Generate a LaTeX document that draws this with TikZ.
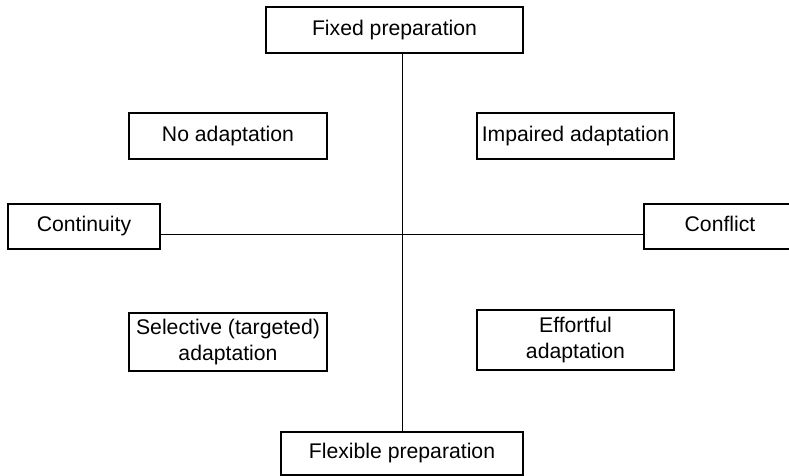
\documentclass[tikz,border=0pt]{standalone}
\usepackage{fontspec}
\setmainfont{Liberation Sans}
\usepackage{tikz}
\tikzset{oneline/.style={text height=0.75em,text depth=0.22em}}
\def\quadbox{\node[draw,rectangle,line width=0.6pt,inner sep=0pt,align=center,font=\fontsize{10.6}{13}\selectfont]}
\def\axisline{\draw[line width=0.5pt]}

\begin{document}
\begin{tikzpicture}[x=0.5pt,y=-0.5pt]
\useasboundingbox (0,0) rectangle (789,476);
\coordinate (mid) at (402,234.5);
\quadbox[oneline,minimum width=128.5pt,minimum height=23pt] (fixed) at (394.5,30) {Fixed preparation};
\quadbox[oneline,minimum width=121pt,minimum height=21.5pt] (flexible) at (402,453.5) {Flexible preparation};
\quadbox[oneline,minimum width=76pt,minimum height=22.5pt] (cont) at (84,226.5) {Continuity};
\quadbox[oneline,minimum width=76pt,minimum height=22.5pt] (confl) at (720,226.5) {Conflict};
\quadbox[oneline,minimum width=99pt,minimum height=23pt] (noadapt) at (228,136) {No adaptation};
\quadbox[oneline,minimum width=98.5pt,minimum height=23pt] (impaired) at (575.5,136) {Impaired adaptation};
\quadbox[minimum width=99pt,minimum height=29pt] (selective) at (228,342) {Selective (targeted)\\adaptation};
\quadbox[minimum width=98.5pt,minimum height=30pt] (effortful) at (575.5,340) {Effortful\\adaptation};
\axisline (fixed.south -| mid) -- (flexible.north -| mid);
\axisline (cont.east |- mid) -- (confl.west |- mid);
\end{tikzpicture}
\end{document}
